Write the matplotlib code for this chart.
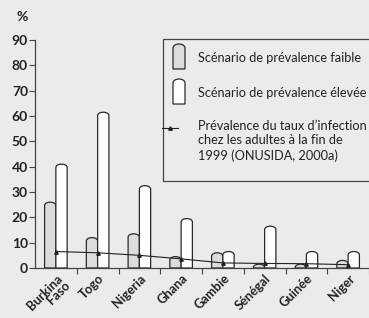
import numpy as np
import matplotlib
matplotlib.use("Agg")
import matplotlib.pyplot as plt
import matplotlib.transforms as mtransforms
from matplotlib.path import Path
from matplotlib.patches import PathPatch, Rectangle
from matplotlib.lines import Line2D

pays = ["Burkina\nFaso", "Togo", "Nigeria", "Ghana", "Gambie", "Sénégal", "Guinée", "Niger"]
faible = [26, 12, 13.5, 4.5, 6, 1.5, 1.5, 3]
elevee = [41, 61.5, 32.5, 19.5, 6.5, 16.5, 6.5, 6.5]
onusida = [6.5, 6, 5, 3.6, 2, 1.8, 1.7, 1.3]
yticks = [0, 10, 20, 30, 40, 50, 60, 70, 80, 90]

bg = "#ebebeb"
plt.rcParams['font.family'] = ['Lato', 'DejaVu Sans']

fig = plt.figure(figsize=(3.69, 3.18), dpi=100, facecolor=bg)
ax = fig.add_axes([35/369, 1-268/318, (369-35)/369, (268-40)/318])
ax.set_facecolor(bg)

x = np.arange(len(pays))
w = 0.27

def rounded(ax, bars, color):
    # redraw each bar with a rounded top
    for b in bars:
        x0, x1 = b.get_x(), b.get_x() + b.get_width()
        top = b.get_height()
        cap = min(1.3, top)
        arc = Path.arc(0, 180)
        av = arc.vertices * [(x1 - x0) / 2, cap] + [(x0 + x1) / 2, top - cap]
        verts = [(x1, 0), (x1, top - cap)] + list(av[1:]) + [(x0, 0), (x1, 0)]
        codes = [Path.MOVETO, Path.LINETO] + list(arc.codes[1:]) + [Path.LINETO, Path.CLOSEPOLY]
        ax.add_patch(PathPatch(Path(verts, codes), facecolor=color, edgecolor="#2a2a2a", lw=0.9, zorder=2))
        b.set_visible(False)

b1 = ax.bar(x - w/2, faible, w)
b2 = ax.bar(x + w/2, elevee, w)
rounded(ax, b1, "#dcdcdc")
rounded(ax, b2, "white")
ax.plot(x, onusida, color="#222222", lw=0.8, marker="^", ms=2.5, zorder=3)

ax.set_xlim(-0.5, -0.5 + (369-35)/42)
ax.set_ylim(0, 90)
ax.set_yticks(yticks)
ax.set_yticklabels([str(t) for t in yticks], fontsize=10, fontweight="bold", color="#222222")
ax.set_xticks(x)
ax.set_xticklabels(pays, rotation=45, ha="right", rotation_mode="anchor",
                   fontsize=9.2, fontweight="bold", color="#222222", linespacing=0.85)
off = mtransforms.ScaledTranslation(9/100, 2/100, fig.dpi_scale_trans)
for lab in ax.get_xticklabels():
    lab.set_transform(lab.get_transform() + off)
ax.set_xticks(np.arange(len(pays)) + 0.5, minor=True)
ax.tick_params(axis="x", which="major", length=0, pad=3)
ax.tick_params(axis="x", which="minor", length=4, width=0.8, color="#444444")
ax.tick_params(axis="y", length=4, width=0.8, color="#444444", pad=1)
for s in ["top", "right"]:
    ax.spines[s].set_visible(False)
for s in ["left", "bottom"]:
    ax.spines[s].set_color("#444444")
    ax.spines[s].set_linewidth(0.9)

fig.text(22/369, 1-17/318, "%", fontsize=10, fontweight="bold", color="#222222", ha="center", va="center")

# legend box
def fx(px): return px / 369
def fy(py): return 1 - py / 318
fig.patches.append(Rectangle((fx(163), fy(181)), fx(260), (181-39)/318, transform=fig.transFigure,
                             facecolor="none", edgecolor="#444444", lw=0.9))
for (ya, yb), col in [((44, 69), "#dcdcdc"), ((79, 104), "white")]:
    x0, x1 = fx(173), fx(185)
    capf = 4/318
    arc = Path.arc(0, 180)
    av = arc.vertices * [(x1 - x0)/2, capf] + [(x0 + x1)/2, fy(ya) - capf]
    verts = [(x1, fy(yb)), (x1, fy(ya) - capf)] + list(av[1:]) + [(x0, fy(yb)), (x1, fy(yb))]
    codes = [Path.MOVETO, Path.LINETO] + list(arc.codes[1:]) + [Path.LINETO, Path.CLOSEPOLY]
    fig.patches.append(PathPatch(Path(verts, codes), facecolor=col, edgecolor="#2a2a2a", lw=0.9,
                                 transform=fig.transFigure))
fig.lines.append(Line2D([fx(162), fx(178)], [fy(128), fy(128)], color="#222222", lw=0.8,
                        transform=fig.transFigure))
fig.lines.append(Line2D([fx(170)], [fy(128)], color="#222222", marker="^", ms=2.5,
                        transform=fig.transFigure))
fs = 9.2
fig.text(fx(198), fy(58), "Scénario de prévalence faible", fontsize=fs, color="#222222", va="center")
fig.text(fx(198), fy(93), "Scénario de prévalence élevée", fontsize=fs, color="#222222", va="center")
fig.text(fx(198), fy(120), "Prévalence du taux d\u2019infection\nchez les adultes à la fin de\n1999 (ONUSIDA, 2000a)",
         fontsize=fs, color="#222222", va="top", linespacing=1.25)

fig.savefig("out.png", dpi=100, facecolor=bg)
